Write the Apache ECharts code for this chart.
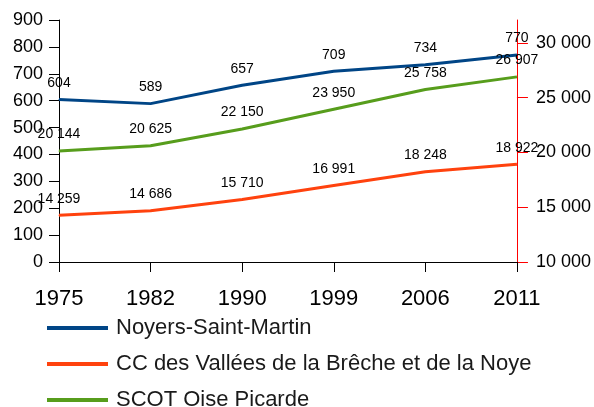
<!DOCTYPE html>
<html>
<head>
<meta charset="utf-8">
<script src="https://cdn.jsdelivr.net/npm/echarts@6/dist/echarts.min.js"></script>
<style>
html,body{margin:0;padding:0;background:#fff;}
#c{width:594px;height:407px;}
</style>
</head>
<body>
<div id="c"></div>
<script>
const years = ['1975', '1982', '1990', '1999', '2006', '2011'];
const noyers = [604, 589, 657, 709, 734, 770];
const ccBreche = [14259, 14686, 15710, 16991, 18248, 18922];
const scotOise = [20144, 20625, 22150, 23950, 25758, 26907];
const rightTicks = [10000, 15000, 20000, 25000, 30000];
const names = ['Noyers-Saint-Martin', 'CC des Vallées de la Brêche et de la Noye', 'SCOT Oise Picarde'];

const fmt = v => String(v).replace(/\B(?=(\d{3})+(?!\d))/g, ' ');
const FONT = 'Liberation Sans, Arial, sans-serif';

const chart = echarts.init(document.getElementById('c'), null, {renderer: 'canvas'});
const labelCfg = {
  show: true, position: 'top', distance: 9,
  fontFamily: FONT, fontSize: 14, color: '#000',
  formatter: p => fmt(p.value)
};
function ser(name, data, color, yIdx) {
  return {
    name, type: 'line', data, yAxisIndex: yIdx,
    symbol: 'circle', symbolSize: 1, showSymbol: true,
    itemStyle: {color},
    lineStyle: {color, width: 3},
    label: labelCfg,
    emphasis: {disabled: true},
    animation: false
  };
}
chart.setOption({
  animation: false,
  grid: {left: 59, right: 77, top: 20, bottom: 145},
  legend: {
    orient: 'vertical', left: 47, top: 317, height: 120, width: 540, padding: 0,
    icon: 'rect', itemWidth: 61, itemHeight: 4, itemGap: 14,
    textStyle: {fontFamily: FONT, fontSize: 22, lineHeight: 22, color: '#1a1a1a', padding: [0, 0, 0, 3]},
    data: names
  },
  xAxis: {
    type: 'category', data: years, boundaryGap: false,
    axisLine: {lineStyle: {color: '#000', width: 1}},
    axisTick: {show: true, alignWithLabel: true, length: 10, lineStyle: {color: '#000'}},
    axisLabel: {fontFamily: FONT, fontSize: 22, color: '#000', margin: 26},
    splitLine: {show: false}
  },
  yAxis: [
    {
      type: 'value', min: 0, max: 900, interval: 100, position: 'left',
      axisLine: {show: true, lineStyle: {color: '#000'}},
      axisTick: {show: true, length: 10, lineStyle: {color: '#000', width: 1}},
      axisLabel: {fontFamily: FONT, fontSize: 18, color: '#000', margin: 16},
      splitLine: {show: false}
    },
    {
      type: 'value', min: 10000, max: 32100, interval: 5000, position: 'right',
      axisLine: {show: true, onZero: false, lineStyle: {color: '#ff0000', width: 1}},
      axisTick: {show: true, length: 11, lineStyle: {color: '#ff0000', width: 1}},
      axisLabel: {fontFamily: FONT, fontSize: 18, color: '#000', margin: 19, showMaxLabel: false,
        formatter: v => (rightTicks.indexOf(v) >= 0 ? fmt(v) : '')},
      splitLine: {show: false}
    }
  ],
  series: [
    ser(names[0], noyers, '#004586', 0),
    ser(names[1], ccBreche, '#ff420e', 1),
    ser(names[2], scotOise, '#579d1c', 1)
  ]
});
</script>
</body>
</html>
